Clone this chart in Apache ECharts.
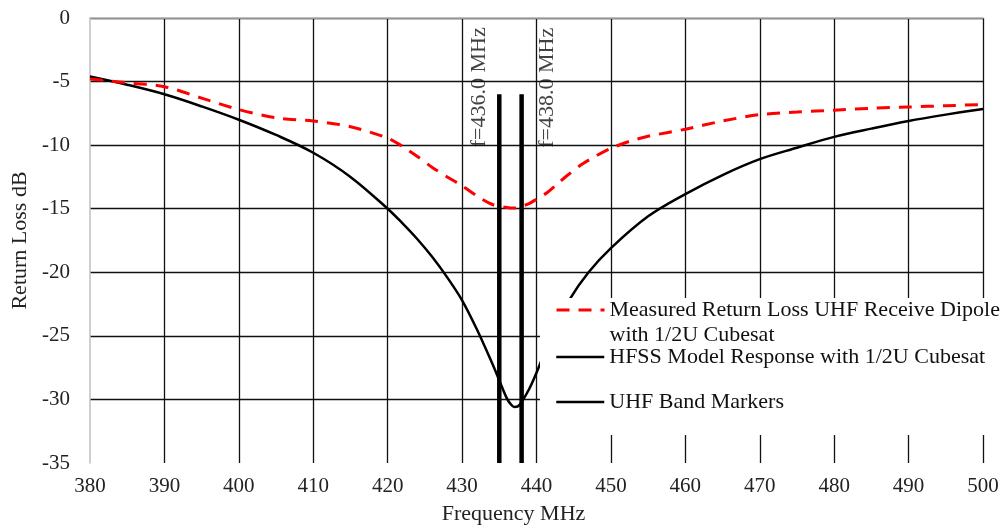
<!DOCTYPE html>
<html>
<head>
<meta charset="utf-8">
<script src="https://cdn.jsdelivr.net/npm/echarts@6/dist/echarts.min.js"></script>
<style>
html,body{margin:0;padding:0;background:#fff;}
#chart{width:1006px;height:531px;}
</style>
</head>
<body>
<div id="chart"></div>
<script>
// Measured return loss (red dashed)
const freqMeasured = [380, 385, 390, 395, 400, 405, 410, 415, 420, 422, 424, 426, 428, 430, 432, 434, 436, 437, 438, 439, 440, 441.5, 443, 444, 446, 448, 450, 452.5, 455, 460, 465, 470, 475, 480, 485, 490, 495, 500];
const lossMeasured = [-4.8, -5.1, -5.4, -6.3, -7.2, -7.85, -8.1, -8.55, -9.45, -10.1, -10.9, -11.75, -12.5, -13.2, -14.0, -14.65, -14.9, -14.95, -14.8, -14.6, -14.25, -13.7, -12.95, -12.45, -11.55, -10.85, -10.25, -9.7, -9.3, -8.75, -8.1, -7.6, -7.4, -7.25, -7.1, -7.0, -6.9, -6.8];

// HFSS model response (black)
const freqModel = [380, 385, 390, 395, 400, 405, 410, 415, 420, 422, 424, 426, 428, 430, 432, 434, 435, 436, 436.5, 437, 437.5, 438, 439, 440, 442, 444.5, 447, 450, 455, 460, 465, 470, 475, 480, 485, 490, 495, 500];
const lossModel = [-4.6, -5.25, -6.0, -6.95, -8.0, -9.2, -10.6, -12.5, -15.0, -16.15, -17.4, -18.8, -20.4, -22.2, -24.5, -27.1, -28.5, -29.9, -30.35, -30.6, -30.55, -30.2, -29.2, -27.9, -25.0, -22.1, -20.0, -18.1, -15.6, -13.85, -12.35, -11.1, -10.2, -9.35, -8.7, -8.1, -7.6, -7.15];

// UHF band markers
const markerFreqs = [435, 438];
const markerRange = [-6, -35];
const markerLabels = ['f=436.0 MHz', 'f=438.0 MHz'];

const seriesNames = [
  'Measured Return Loss UHF Receive Dipole with 1/2U Cubesat',
  'HFSS Model Response with 1/2U Cubesat',
  'UHF Band Markers'
];
const measuredLegendLines = ['Measured Return Loss UHF Receive Dipole', 'with 1/2U Cubesat'];

const FONT = "'Liberation Serif', 'Times New Roman', serif";
const pairs = (xs, ys) => xs.map((x, i) => [x, ys[i]]);

const chart = echarts.init(document.getElementById('chart'), null, {renderer: 'canvas'});

const markerSeries = markerFreqs.map(f => ({
  name: seriesNames[2],
  type: 'line',
  data: markerRange.map(v => [f, v]),
  symbol: 'none',
  lineStyle: {color: '#000', width: 4.5},
  itemStyle: {color: '#000'},
  z: 4
}));

const labelOffsets = [[7, -20], [6.5, 26]];

function legendBlock(top, name, lineHeight, lineStyle, formatter) {
  return {
    orient: 'vertical', left: 555, top: top, padding: 0, itemGap: 0,
    itemWidth: 48, itemHeight: 14, selectedMode: false,
    itemStyle: {opacity: 0},
    lineStyle: lineStyle,
    data: [name],
    formatter: formatter,
    textStyle: {fontFamily: FONT, fontSize: 22, color: '#111', lineHeight: lineHeight}
  };
}

const option = {
  backgroundColor: '#fff',
  animation: false,
  grid: {left: 90, right: 23, top: 18, bottom: 68},
  xAxis: {
    type: 'value', min: 380, max: 500, interval: 10,
    axisLine: {show: true, lineStyle: {color: '#bfbfbf', width: 1.5}},
    axisTick: {show: false},
    splitLine: {show: true, showMinLine: false, lineStyle: {color: '#111', width: 1.3}},
    axisLabel: {fontFamily: FONT, fontSize: 21, color: '#222', margin: 13},
    name: 'Frequency MHz', nameLocation: 'middle', nameGap: 40,
    nameTextStyle: {fontFamily: FONT, fontSize: 22, color: '#222', padding: [0, 46, 0, 0]}
  },
  yAxis: {
    type: 'value', min: -35, max: 0, interval: 5,
    axisLine: {show: true, lineStyle: {color: '#bfbfbf', width: 1.5}},
    axisTick: {show: false},
    splitLine: {show: true, showMinLine: false, lineStyle: {color: '#111', width: 1.3}},
    axisLabel: {fontFamily: FONT, fontSize: 21, color: '#222', margin: 20},
    name: 'Return Loss dB', nameLocation: 'middle', nameGap: 54, nameRotate: 90,
    nameTextStyle: {fontFamily: FONT, fontSize: 22, color: '#222'}
  },
  legend: [
    legendBlock(272.5, seriesNames[0], 25,
      {color: '#ff0000', width: 3, type: [13, 9], opacity: 1},
      () => '\n' + measuredLegendLines.join('\n')),
    legendBlock(345, seriesNames[1], 24, {color: '#000', width: 2.5, opacity: 1}, n => n),
    legendBlock(390, seriesNames[2], 24, {color: '#000', width: 2.5, opacity: 1}, n => n)
  ],
  graphic: [{
    type: 'rect', z: 3,
    shape: {x: 540, y: 298, width: 466, height: 137},
    style: {fill: '#fff'}
  }],
  series: [
    {
      name: seriesNames[1], type: 'line', data: pairs(freqModel, lossModel),
      symbol: 'none', smooth: 0.35,
      lineStyle: {color: '#000', width: 2.5}, itemStyle: {color: '#000'}, z: 2
    },
    {
      name: seriesNames[0], type: 'line', data: pairs(freqMeasured, lossMeasured),
      symbol: 'none', smooth: 0.3,
      lineStyle: {color: '#ff0000', width: 3, type: [13, 9]}, itemStyle: {color: '#ff0000'}, z: 3
    },
    ...markerSeries,
    {
      name: 'markerLabels', type: 'scatter',
      data: markerFreqs.map((f, i) => ({
        value: [f, markerRange[0]],
        label: {offset: labelOffsets[i]}
      })),
      symbol: 'circle', symbolSize: 1,
      itemStyle: {color: 'rgba(0,0,0,0)'},
      silent: true,
      label: {
        show: true, position: 'inside', rotate: 90,
        align: 'center', verticalAlign: 'middle',
        fontFamily: FONT, fontSize: 22, color: '#111',
        formatter: p => markerLabels[p.dataIndex]
      },
      z: 5
    }
  ]
};
chart.setOption(option);
</script>
</body>
</html>
